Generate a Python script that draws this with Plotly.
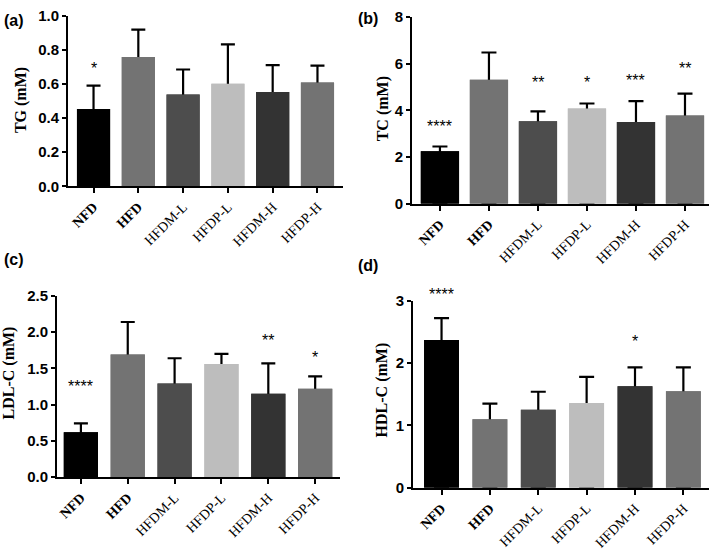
import plotly.graph_objects as go

categories = ["NFD", "HFD", "HFDM-L", "HFDP-L", "HFDM-H", "HFDP-H"]
tick_labels = ["<b>NFD</b>", "<b>HFD</b>", "HFDM-L", "HFDP-L", "HFDM-H", "HFDP-H"]
bar_colors = ["#000000", "#737373", "#4d4d4d", "#bdbdbd", "#333333", "#737373"]

# (a) TG
tg_mean = [0.453, 0.758, 0.538, 0.602, 0.553, 0.609]
tg_top = [0.59, 0.919, 0.685, 0.832, 0.711, 0.708]
tg_stars = {"NFD": ("*", 0.69)}

# (b) TC
tc_mean = [2.25, 5.31, 3.53, 4.08, 3.50, 3.78]
tc_top = [2.45, 6.47, 3.95, 4.29, 4.39, 4.71]
tc_stars = {"NFD": ("****", 3.30), "HFDM-L": ("**", 5.18), "HFDP-L": ("*", 5.18),
            "HFDM-H": ("***", 5.28), "HFDP-H": ("**", 5.80)}

# (c) LDL-C
ldl_mean = [0.62, 1.69, 1.29, 1.56, 1.15, 1.22]
ldl_top = [0.74, 2.14, 1.64, 1.70, 1.57, 1.39]
ldl_stars = {"NFD": ("****", 1.25), "HFDM-H": ("**", 1.88), "HFDP-H": ("*", 1.65)}

# (d) HDL-C
hdl_mean = [2.37, 1.10, 1.25, 1.36, 1.63, 1.55]
hdl_top = [2.72, 1.35, 1.54, 1.78, 1.93, 1.93]
hdl_stars = {"NFD": ("****", 3.10), "HFDM-H": ("*", 2.35)}

panels = [
    dict(mean=tg_mean, top=tg_top, stars=tg_stars, title="TG (mM)", label="(a)",
         xdom=[68/709, 343/709], ydom=[1-183/552, 1-7/552], xr=[-0.57, 5.57], yr=[0, 1.0],
         dtick=0.2, fmt=".1f", width=0.74, cap=7,
         tpos=(21, 94), lpos=(2, 12)),
    dict(mean=tc_mean, top=tc_top, stars=tc_stars, title="TC (mM)", label="(b)",
         xdom=[412/709, 1.0], ydom=[1-201/552, 1-8/552], xr=[-0.57, 5.49], yr=[0, 8],
         dtick=2, fmt="d", width=0.78, cap=7.5,
         tpos=(382.5, 103), lpos=(356, 10)),
    dict(mean=ldl_mean, top=ldl_top, stars=ldl_stars, title="LDL-C (mM)", label="(c)",
         xdom=[57/709, 340/709], ydom=[1-483/552, 1-296/552], xr=[-0.51, 5.53], yr=[0, 2.5],
         dtick=0.5, fmt=".1f", width=0.73, cap=7,
         tpos=(9, 376), lpos=(2, 258)),
    dict(mean=hdl_mean, top=hdl_top, stars=hdl_stars, title="HDL-C (mM)", label="(d)",
         xdom=[413/709, 1.0], ydom=[1-494/552, 1-301/552], xr=[-0.59, 5.53], yr=[0, 3],
         dtick=1, fmt="d", width=0.72, cap=7.5,
         tpos=(381.5, 393), lpos=(356, 265)),
]

fig = go.Figure()
annotations = []
W, H = 709, 552

for i, p in enumerate(panels):
    n = "" if i == 0 else str(i + 1)
    xa, ya = "x" + n, "y" + n
    err_plus = [t - m for t, m in zip(p["top"], p["mean"])]
    # bar carrying the error bar (drawn underneath)
    fig.add_trace(go.Bar(
        x=categories, y=p["mean"], xaxis=xa, yaxis=ya, width=p["width"],
        marker=dict(color=bar_colors, line=dict(width=0)),
        error_y=dict(type="data", symmetric=False, array=err_plus, arrayminus=p["mean"],
                     color="black", thickness=2.2, width=p["cap"]),
        showlegend=False, hoverinfo="skip"))
    # same bar on top, hiding the part of the error line inside the bar
    fig.add_trace(go.Bar(
        x=categories, y=p["mean"], xaxis=xa, yaxis=ya, width=p["width"],
        marker=dict(color=bar_colors, line=dict(width=0)),
        showlegend=False))

    fig.layout["xaxis" + n] = dict(
        domain=p["xdom"], anchor=ya, range=p["xr"], type="category",
        tickmode="array", tickvals=categories, ticktext=tick_labels, tickangle=-45,
        showline=True, linecolor="black", linewidth=2,
        ticks="outside", ticklen=5, tickwidth=2, tickcolor="black",
        tickfont=dict(family="Liberation Serif", size=14, color="black"),
        showgrid=False, zeroline=False, fixedrange=True)
    fig.layout["yaxis" + n] = dict(
        domain=p["ydom"], anchor=xa, range=p["yr"], dtick=p["dtick"], tick0=0,
        tickformat=p["fmt"],
        showline=True, linecolor="black", linewidth=2,
        ticks="outside", ticklen=4, tickwidth=2, tickcolor="black",
        tickfont=dict(family="Liberation Sans", size=15, color="black", weight="bold"),
        showgrid=False, zeroline=False, fixedrange=True)

    y0, y1 = p["yr"]
    d0, d1 = p["ydom"]
    for cat, (txt, yv) in p["stars"].items():
        annotations.append(dict(
            x=cat, y=d0 + (yv - y0) / (y1 - y0) * (d1 - d0), xref=xa, yref="paper",
            text=txt, showarrow=False, xanchor="center", yanchor="middle",
            font=dict(family="Liberation Sans", size=16, color="black")))

    annotations.append(dict(
        x=p["tpos"][0] / W, y=1 - p["tpos"][1] / H, xref="paper", yref="paper",
        text="<b>" + p["title"] + "</b>", textangle=-90, showarrow=False,
        xanchor="center", yanchor="middle",
        font=dict(family="Liberation Serif", size=16, color="black")))
    annotations.append(dict(
        x=p["lpos"][0] / W, y=1 - p["lpos"][1] / H, xref="paper", yref="paper",
        text="<b>" + p["label"] + "</b>", showarrow=False,
        xanchor="left", yanchor="middle",
        font=dict(family="Liberation Sans", size=16, color="black")))

fig.update_layout(
    width=W, height=H, margin=dict(l=0, r=0, t=0, b=0),
    barmode="overlay", paper_bgcolor="white", plot_bgcolor="white",
    annotations=annotations, showlegend=False)

fig.write_html("out.html", config={"displayModeBar": False},
               post_script="document.body.style.margin='0px';document.body.style.overflow='hidden';")
